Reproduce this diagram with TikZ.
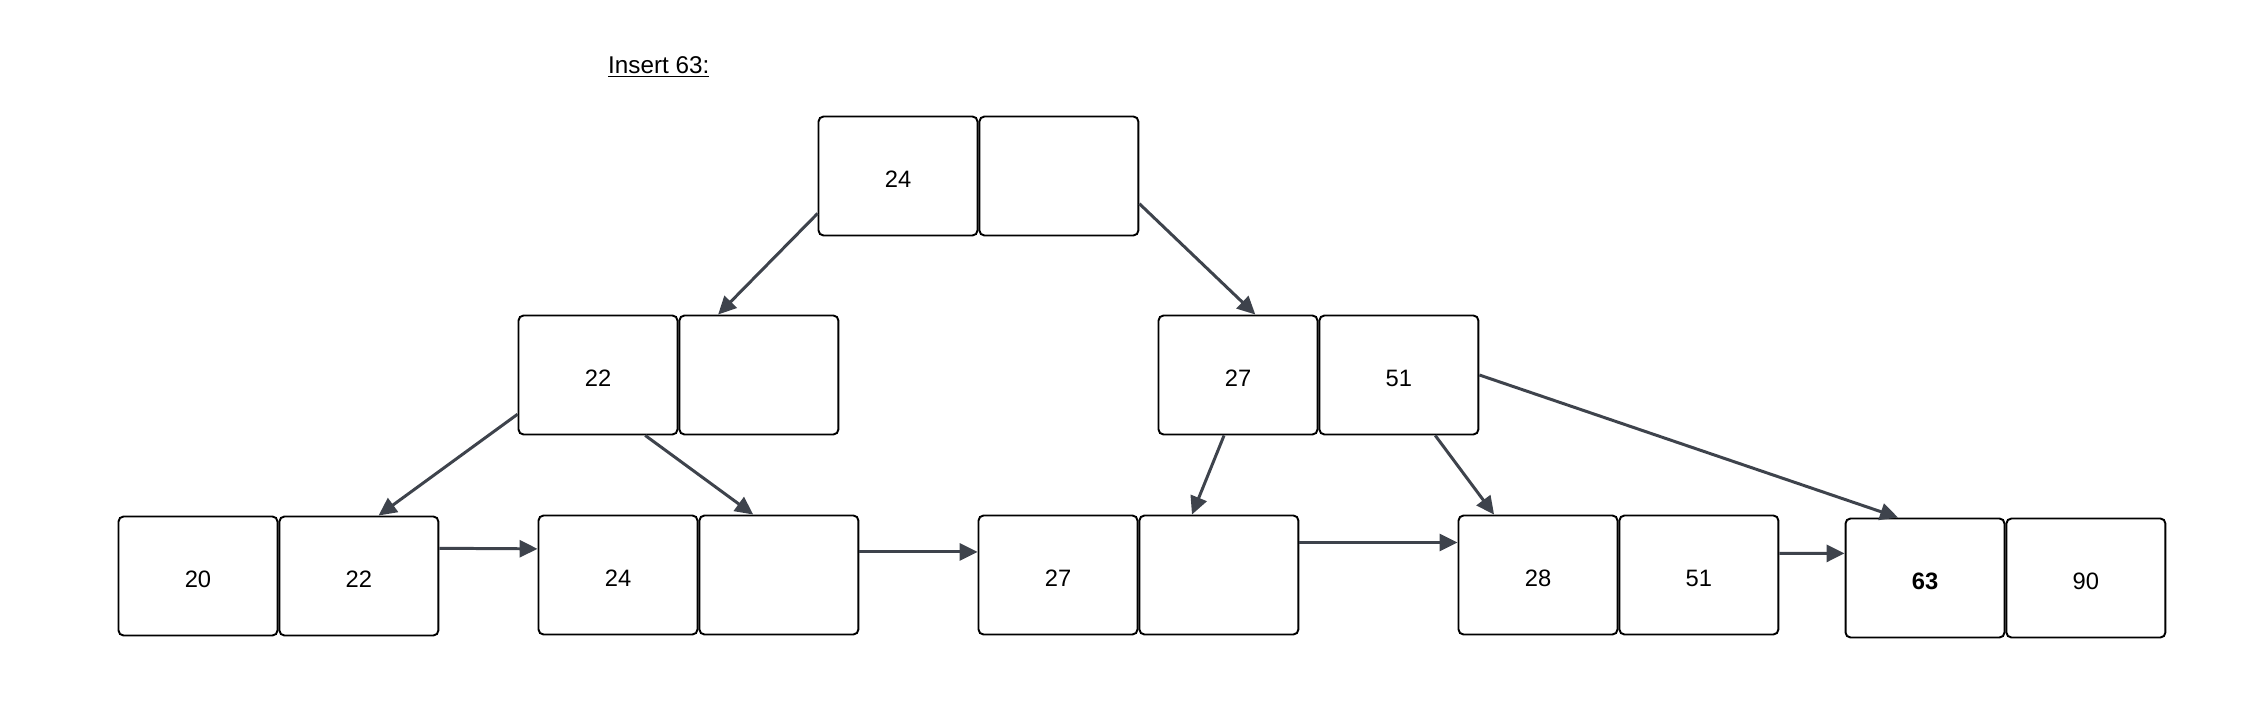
\documentclass[tikz,border=0pt]{standalone}
\usepackage{fontspec}
\setmainfont{Liberation Sans}
\usetikzlibrary{positioning, arrows.meta}
\definecolor{linkgray}{RGB}{62,67,76}
\tikzset{>={Triangle[length=0.36cm,width=0.34cm]},
cell/.style={draw, line width=1.1pt, rounded corners=0.1cm, minimum width=3.18cm, minimum height=2.38cm, inner sep=0pt, text height=0.48cm, text depth=0pt, font=\fontsize{13.5}{16}\selectfont},
link/.style={draw=linkgray, line width=1.7pt, ->},
}

\begin{document}
\begin{tikzpicture}[x=0.02cm, y=-0.02cm]
\useasboundingbox (0,0) rectangle (2249,709);
\node[anchor=west, font=\fontsize{13.8}{16}\selectfont] (title) at (602,67) {\underline{Insert 63:}};
    % root
    \node[cell] (r1) at (898,176) {24};
    \node[cell, right=0pt of r1] (r2) {};
    % inner nodes
    \node[cell] (a1) at (598,375) {22};
    \node[cell, right=0pt of a1] (a2) {};
    \node[cell] (b1) at (1238,375) {27};
    \node[cell, right=0pt of b1] (b2) {51};
    % leaves
    \node[cell] (c1) at (198,576) {20};
    \node[cell, right=0pt of c1] (c2) {22};
    \node[cell] (d1) at (618,575) {24};
    \node[cell, right=0pt of d1] (d2) {};
    \node[cell] (e1) at (1058,575) {27};
    \node[cell, right=0pt of e1] (e2) {};
    \node[cell] (f1) at (1538,575) {28};
    \node[cell, right=0pt of f1] (f2) {51};
    \node[cell] (g1) at (1925,578) {\textbf{63}};
    \node[cell, right=0pt of g1] (g2) {90};
    \path[every edge/.style={link}]
        (r1.205) edge (a2.124)
        (r2.341) edge (b1.74)
        (a1.206) edge (c2.72)
        (a1.308) edge (d2.113)
        (b1.257) edge (e2.114)
        (b2.301) edge (f1.126)
        (b2.east) edge (g1.114)
        (c2.19) edge (d1.162)
        (d2.16) edge (e1.164)
        (e2.22) edge (f1.158)
        (f2.15) edge (g1.163)
    ;
\end{tikzpicture}
\end{document}
